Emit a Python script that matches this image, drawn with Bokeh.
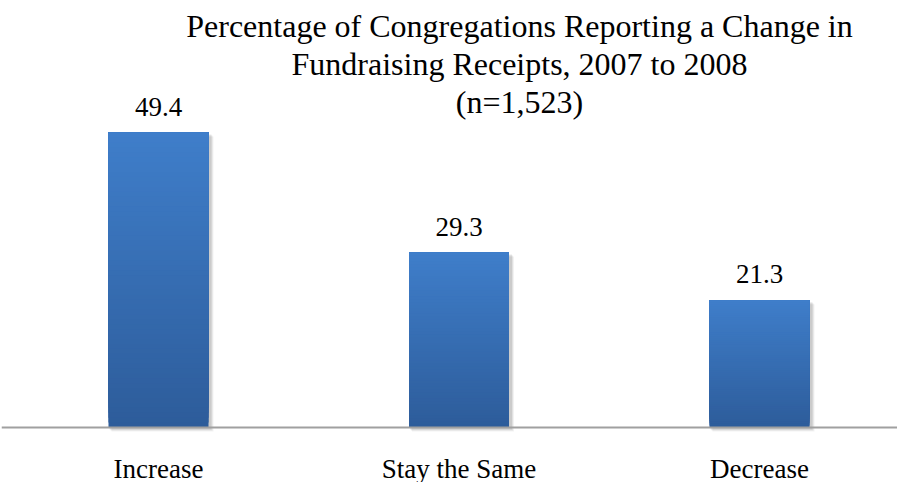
from bokeh.plotting import figure
from bokeh.models import Range1d, Span, ColumnDataSource
from bokeh.core.properties import value
from bokeh.embed import file_html
from bokeh.resources import INLINE

categories = ["Increase", "Stay the Same", "Decrease"]
values = [49.4, 29.3, 21.3]
value_labels = ["49.4", "29.3", "21.3"]
title_lines = [
    "Percentage of Congregations Reporting a Change in",
    "Fundraising Receipts, 2007 to 2008",
    "(n=1,523)",
]

FONT = "Liberation Serif"
PY = 5.97      # pixels per percent
PX = 300.5     # pixels per category
BASE = 427     # baseline pixel from frame top
LEFT = 157     # first category centre from frame left

p = figure(width=897, height=482, output_backend="svg", toolbar_location=None,
           x_range=Range1d(-LEFT / PX, (896 - LEFT) / PX),
           y_range=Range1d(-(482 - BASE) / PY, BASE / PY),
           min_border_left=1, min_border_right=0, min_border_top=0, min_border_bottom=0)
p.xaxis.visible = False
p.yaxis.visible = False
p.grid.visible = False
p.outline_line_color = None
p.background_fill_color = "white"
p.border_fill_color = "white"

xs = list(range(len(categories)))
bar_w = 100 / PX

# soft shadow
for dx, extra, alpha in [(4, 4, 0.05), (3, 3, 0.07), (2, 2, 0.09)]:
    p.vbar(x=[x + dx / PX for x in xs], width=bar_w + 2 / PX,
           top=[v - extra / PY for v in values],
           bottom=[-extra / PY] * len(values),
           fill_color="black", fill_alpha=alpha, line_color=None)

# gradient bars (overlapping slices, bottom dark -> top light)
light = (63, 126, 202)
dark = (45, 92, 154)
N = 60
gx, gb, gt, gc = [], [], [], []
for x, v in zip(xs, values):
    for k in range(N):
        t = (k + 0.5) / N
        c = tuple(int(round(dark[j] + (light[j] - dark[j]) * t)) for j in range(3))
        gx.append(x)
        gb.append(v * k / N)
        gt.append(v)
        gc.append("#%02x%02x%02x" % c)
p.vbar(x="x", top="top", bottom="bottom", width=bar_w, fill_color="color",
       line_color=None, source=ColumnDataSource(dict(x=gx, top=gt, bottom=gb, color=gc)))

# baseline
p.add_layout(Span(location=0, dimension="width", line_color="#a0a0a0", line_width=2))

# value labels
p.text(x=xs, y=[v + 26 / PY for v in values], text=value_labels,
       text_font=value(FONT), text_font_size="27px", text_color="black",
       text_align="center", text_baseline="middle")

# category labels
p.text(x=xs, y=[-41 / PY] * len(xs), text=categories,
       text_font=value(FONT), text_font_size="27px", text_color="black",
       text_align="center", text_baseline="middle")

# title
tx = (520 - 159) / PX
ty = [(BASE - 25) / PY, (BASE - 63) / PY, (BASE - 101) / PY]
p.text(x=[tx] * 3, y=ty, text=title_lines,
       text_font=value(FONT), text_font_size="32px", text_color="black",
       text_align="center", text_baseline="middle")

open("out.html", "w").write(file_html(p, INLINE))
